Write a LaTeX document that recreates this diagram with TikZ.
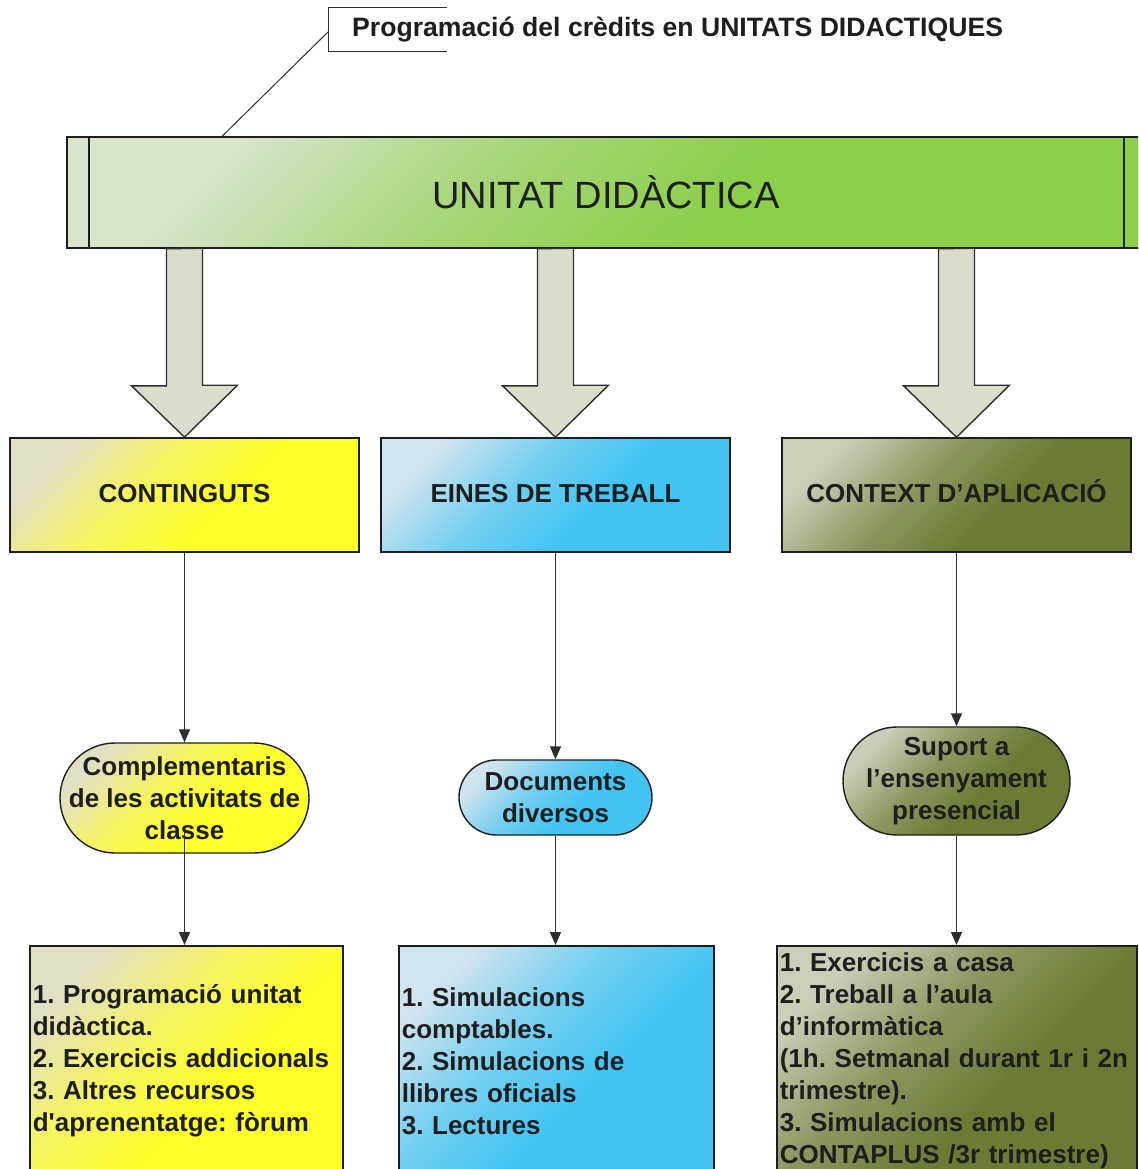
\documentclass[tikz,border=0pt]{standalone}
\usepackage{fontspec}
\setmainfont{Liberation Sans}
\usetikzlibrary{calc,arrows.meta}
\frenchspacing
\definecolor{inkdark}{HTML}{1E1E1E}
\definecolor{linegray}{HTML}{2E2E2E}
\definecolor{barlight}{HTML}{D8E4CC}
\definecolor{barfull}{HTML}{8BCF4A}
\definecolor{yellowlight}{HTML}{E2E0C4}
\definecolor{yellowfull}{HTML}{FFFF2A}
\definecolor{bluelight}{HTML}{D0E4EE}
\definecolor{bluefull}{HTML}{42C4F2}
\definecolor{olivelight}{HTML}{CBCEB8}
\definecolor{olivefull}{HTML}{6C7B34}
\definecolor{arrowfill}{HTML}{DCDCCD}
\colorlet{tintlight}{white}
\colorlet{tintmid}{gray}
\colorlet{tintfull}{black}
\pgfdeclareverticalshading[tintlight,tintmid,tintfull]{tintshade}{100bp}{color(0bp)=(tintfull);
  color(25bp)=(tintfull); color(42bp)=(tintfull); color(58bp)=(tintmid);
  color(75bp)=(tintlight); color(100bp)=(tintlight)}
\begin{document}
\begin{tikzpicture}
[x=1pt,y=-1pt,
  textdecorate/.style={font=\fontsize{26}{32}\selectfont\bfseries,text=inkdark},
  shadedecorate/.style 2 args={/utils/exec={\colorlet{tintlight}{#1}\colorlet{tintfull}{#2}%
    \colorlet{tintmid}{#2!65!#1}},shade,shading=tintshade,shading angle=45},
  bardecorate/.style={shape=rectangle,draw=inkdark,line width=1.6pt,inner sep=0pt,
    minimum width=1078pt,minimum height=111pt,shadedecorate={barlight}{barfull},
    font=\fontsize{38}{44}\selectfont,text=inkdark},
  boxdecorate/.style={shape=rectangle,draw=inkdark,line width=1.6pt,inner sep=0pt,
    minimum width=349pt,minimum height=114pt,text height=19pt,text depth=5pt,textdecorate},
  roundeddecorate/.style={shape=rectangle,draw=inkdark,line width=1.4pt,inner sep=0pt,
    rounded corners=#1,align=center,textdecorate},
  listdecorate/.style={shape=rectangle,draw=inkdark,line width=1.6pt,inner xsep=3pt,
    inner ysep=0pt,minimum height=230pt,anchor=north west,align=left,textdecorate},
  arrowdecorate/.style={draw=linegray,line width=1.4pt,fill=arrowfill,line join=miter},
  linedecorate/.style={draw=linegray,line width=1.6pt,-{Triangle[width=11pt,length=13pt]}},
  calloutdecorate/.style={draw=linegray,line width=1pt}]
\useasboundingbox (0,0) rectangle (1138,1169);
\clip (0,0) rectangle (1138,1169);
\fill[white] (0,0) rectangle (1138,1169);
%% bar and callout
\node (bar) at (606,192.5) [bardecorate] {UNITAT DIDÀCTICA};
\draw[line width=1.6pt,draw=inkdark]
  ([xshift=23pt]bar.north west) -- ([xshift=23pt]bar.south west)
  ([xshift=-22pt]bar.north east) -- ([xshift=-22pt]bar.south east);
\node (title) at (352,30) [anchor=west,inner sep=0pt,textdecorate,
  font=\fontsize{26.6}{32}\selectfont\bfseries]
  {Programació del crèdits en UNITATS DIDACTIQUES};
\coordinate (callout) at ($(title.west)+(-24,2)$);
\coordinate (bartouch) at ($(bar.north west)+(156,0)$);
\draw[calloutdecorate] ($(title.west)+(95,-22)$) -| ($(title.west)+(-24,22)$) -- ++(119,0);
\draw[calloutdecorate] (callout) -- (bartouch);
%% first row
\foreach \nodename/\x/\tint/\label in {cont/184.5/yellow/CONTINGUTS,
  eines/555.5/blue/EINES DE TREBALL, context/956.5/olive/CONTEXT D’APLICACIÓ} {
  \node (\nodename) at (\x,495) [boxdecorate,shadedecorate={\tint light}{\tint full}] {\label};
}
%% block arrows
\foreach \nodename in {cont, eines, context} {
  \draw[arrowdecorate] ($(bar.south -| \nodename.north)+(-18,0)$) -- ++(0,137)
    -- ++(-35,0) -- (\nodename.north) -- ++(53,-52) -- ++(-35,0) -- ++(0,-137) -- cycle;
}
%% second row
\node (compl) at (184.5,798) [roundeddecorate=55pt,minimum width=249pt,minimum height=110pt,
  shadedecorate={yellowlight}{yellowfull}] {Complementaris\\de les activitats de\\classe};
\node (docs) at (555.5,797.5) [roundeddecorate=37.5pt,minimum width=193pt,minimum height=75pt,
  shadedecorate={bluelight}{bluefull}] {Documents\\diversos};
\node (suport) at (956.5,781) [roundeddecorate=54pt,minimum width=227pt,minimum height=108pt,
  shadedecorate={olivelight}{olivefull}] {Suport a\\l’ensenyament\\presencial};
%% third row
\node (prog) at (29,945) [listdecorate,text width=307pt,shadedecorate={yellowlight}{yellowfull}]
  {1. Programació unitat\\didàctica.\\2. Exercicis addicionals\\3. Altres recursos\\d\textquotesingle aprenentatge: fòrum};
\node (sim) at (398,945) [listdecorate,text width=309pt,shadedecorate={bluelight}{bluefull}]
  {1. Simulacions\\comptables.\\2. Simulacions de\\llibres oficials\\3. Lectures};
\node (exer) at (776,945) [listdecorate,text width=354pt,shadedecorate={olivelight}{olivefull}]
  {1. Exercicis a casa\\2. Treball a l’aula\\d’informàtica\\(1h. Setmanal durant 1r i 2n\\trimestre).\\3. Simulacions amb el\\CONTAPLUS /3r trimestre)};
%% edges or lines
\foreach \startnode/\endnode in {cont/compl, eines/docs, context/suport} {
  \draw[linedecorate] (\startnode.south) -- (\endnode.north);
}
\draw[linedecorate] ($(compl.south)+(0,-23)$) -- (prog.north -| compl.south);
\draw[linedecorate] (docs.south) -- (sim.north -| docs.south);
\draw[linedecorate] (suport.south) -- (exer.north -| suport.south);
\end{tikzpicture}
\end{document}
